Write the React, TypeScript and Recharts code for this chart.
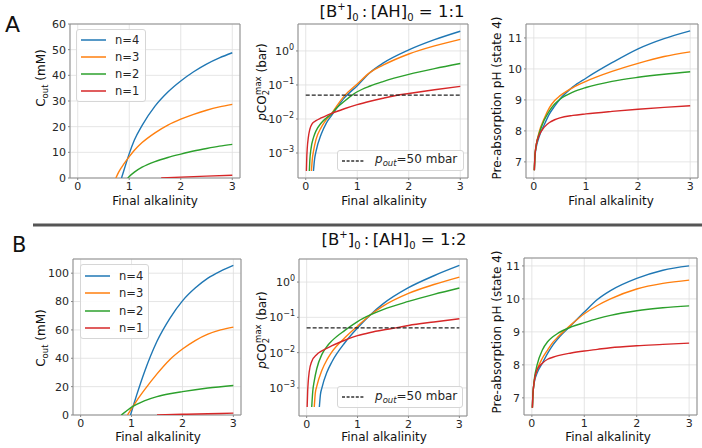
import React from 'react';
import { LineChart, Line, XAxis, YAxis, CartesianGrid, Legend, ReferenceArea } from 'recharts';

const C4 = '#1f77b4';
const C3 = '#ff7f0e';
const C2 = '#2ca02c';
const C1 = '#d62728';
const FONT = '"DejaVu Sans", sans-serif';
const X_TICKS = [0, 1, 2, 3];
const X_DOMAIN = [-0.15, 3.15];
const LOG_TICKS = [0.001, 0.01, 0.1, 1];
const PH_TICKS = [7, 8, 9, 10, 11];

// p_out = 50 mbar reference
const POUT_X = [0, 3];
const POUT_Y = [0.05, 0.05];

// A, C_out (mM)
const A1_N4_X = [0.85, 0.9, 1.0, 1.1, 1.25, 1.5, 1.75, 2.0, 2.25, 2.5, 2.75, 3.0];
const A1_N4_Y = [0, 3.2, 9.5, 14.8, 20.5, 28, 33.5, 37.8, 41.4, 44.4, 46.8, 48.8];
const A1_N3_X = [0.74, 0.8, 0.9, 1.0, 1.1, 1.25, 1.5, 1.75, 2.0, 2.25, 2.5, 2.75, 3.0];
const A1_N3_Y = [0, 2.5, 5.6, 8.3, 10.8, 13.8, 17.6, 20.6, 22.9, 24.8, 26.4, 27.7, 28.7];
const A1_N2_X = [0.97, 1.0, 1.1, 1.25, 1.5, 1.75, 2.0, 2.25, 2.5, 2.75, 3.0];
const A1_N2_Y = [0, 0.6, 2.3, 4.2, 6.4, 8.0, 9.3, 10.5, 11.5, 12.4, 13.1];
const A1_N1_X = [1.62, 2.0, 2.5, 3.0];
const A1_N1_Y = [0, 0.35, 0.75, 1.1];

// A, pCO2 max (bar)
const A2_N4_X = [0.15, 0.17, 0.2, 0.3, 0.4, 0.5, 0.6, 0.75, 1.0, 1.25, 1.5, 2.0, 2.5, 3.0];
const A2_N4_Y = [0.000295, 0.00063, 0.00112, 0.00355, 0.00759, 0.0126, 0.0209, 0.0417, 0.0955, 0.234, 0.437, 1.07, 2.14, 3.8];
const A2_N3_X = [0.11, 0.13, 0.15, 0.2, 0.3, 0.4, 0.5, 0.6, 0.75, 1.0, 1.25, 1.5, 2.0, 2.5, 3.0];
const A2_N3_Y = [0.000295, 0.00071, 0.00112, 0.00251, 0.00562, 0.00955, 0.0141, 0.024, 0.0479, 0.107, 0.234, 0.38, 0.813, 1.41, 2.19];
const A2_N2_X = [0.07, 0.08, 0.1, 0.15, 0.2, 0.3, 0.4, 0.5, 0.6, 0.75, 0.9, 1.0, 1.25, 1.5, 2.0, 2.5, 3.0];
const A2_N2_Y = [0.000295, 0.00063, 0.00126, 0.00282, 0.00447, 0.00759, 0.0107, 0.0141, 0.0209, 0.0331, 0.0501, 0.0631, 0.0933, 0.126, 0.204, 0.302, 0.427];
const A2_N1_X = [0.013, 0.02, 0.03, 0.05, 0.08, 0.12, 0.2, 0.3, 0.4, 0.5, 0.6, 0.75, 1.0, 1.25, 1.5, 1.75, 2.0, 2.5, 3.0];
const A2_N1_Y = [0.000295, 0.00071, 0.00141, 0.00282, 0.005, 0.0071, 0.0089, 0.0107, 0.0126, 0.0145, 0.0166, 0.02, 0.0263, 0.0331, 0.0407, 0.049, 0.0562, 0.0724, 0.0912];

// A, pre-absorption pH
const A3_X = [0.01, 0.02, 0.03, 0.05, 0.1, 0.2, 0.3, 0.4, 0.5, 0.75, 1.0, 1.5, 2.0, 2.5, 3.0];
const A3_N4_Y = [6.73, 7.1, 7.3, 7.5, 7.8, 8.2, 8.55, 8.8, 9.02, 9.42, 9.7, 10.2, 10.65, 10.98, 11.23];
const A3_N3_Y = [6.73, 7.15, 7.35, 7.58, 7.95, 8.4, 8.75, 8.98, 9.13, 9.4, 9.6, 9.92, 10.18, 10.4, 10.55];
const A3_N2_Y = [6.73, 7.15, 7.35, 7.58, 7.9, 8.35, 8.65, 8.87, 9.02, 9.25, 9.4, 9.6, 9.73, 9.83, 9.91];
const A3_N1_Y = [6.73, 7.15, 7.35, 7.58, 7.85, 8.12, 8.27, 8.36, 8.42, 8.5, 8.55, 8.63, 8.7, 8.76, 8.81];

// B, C_out (mM)
const B1_N4_X = [0.98, 1.03, 1.1, 1.25, 1.5, 1.75, 2.0, 2.25, 2.5, 2.75, 3.0];
const B1_N4_Y = [0, 6, 14, 30, 52, 68, 80.5, 89.5, 96.5, 101.5, 105.5];
const B1_N3_X = [0.92, 1.0, 1.1, 1.25, 1.5, 1.75, 2.0, 2.25, 2.5, 2.75, 3.0];
const B1_N3_Y = [0, 4.5, 10, 17.5, 29, 39, 46.5, 52.5, 57, 60, 62];
const B1_N2_X = [0.8, 0.9, 1.0, 1.25, 1.5, 1.75, 2.0, 2.5, 3.0];
const B1_N2_Y = [0, 2.8, 5.5, 10, 13, 15, 16.5, 19, 20.8];
const B1_N1_X = [1.5, 2.0, 2.5, 3.0];
const B1_N1_Y = [0, 0.5, 0.9, 1.3];

// B, pCO2 max (bar)
const B2_N4_X = [0.25, 0.27, 0.3, 0.4, 0.5, 0.75, 1.0, 1.25, 1.5, 2.0, 2.5, 3.0];
const B2_N4_Y = [0.000288, 0.00063, 0.001, 0.00282, 0.00562, 0.0191, 0.0501, 0.117, 0.24, 0.692, 1.51, 2.95];
const B2_N3_X = [0.15, 0.17, 0.2, 0.3, 0.4, 0.5, 0.75, 1.0, 1.25, 1.5, 2.0, 2.5, 3.0];
const B2_N3_Y = [0.000288, 0.00071, 0.00112, 0.00316, 0.00631, 0.0107, 0.0263, 0.0562, 0.117, 0.209, 0.479, 0.851, 1.38];
const B2_N2_X = [0.1, 0.12, 0.15, 0.2, 0.3, 0.4, 0.5, 0.75, 1.0, 1.25, 1.5, 2.0, 2.5, 3.0];
const B2_N2_Y = [0.000288, 0.00079, 0.00158, 0.00355, 0.00891, 0.0151, 0.0219, 0.0427, 0.0759, 0.117, 0.166, 0.282, 0.447, 0.676];
const B2_N1_X = [0.01, 0.02, 0.03, 0.05, 0.1, 0.2, 0.3, 0.5, 0.75, 1.0, 1.25, 1.5, 1.75, 2.0, 2.5, 3.0];
const B2_N1_Y = [0.000288, 0.00079, 0.00141, 0.00282, 0.00562, 0.0089, 0.0112, 0.0158, 0.0224, 0.0302, 0.0372, 0.0437, 0.0501, 0.0589, 0.0741, 0.0912];

// B, pre-absorption pH
const B3_X = [0.01, 0.02, 0.03, 0.05, 0.1, 0.2, 0.3, 0.4, 0.5, 0.75, 1.0, 1.25, 1.5, 2.0, 2.5, 3.0];
const B3_N4_Y = [6.7, 7.1, 7.3, 7.5, 7.75, 8.05, 8.35, 8.6, 8.8, 9.2, 9.6, 9.98, 10.25, 10.62, 10.87, 11.0];
const B3_N3_Y = [6.7, 7.1, 7.3, 7.55, 7.85, 8.2, 8.45, 8.68, 8.85, 9.22, 9.55, 9.8, 10.0, 10.3, 10.47, 10.57];
const B3_N2_Y = [6.7, 7.1, 7.3, 7.6, 8.0, 8.45, 8.7, 8.85, 8.96, 9.15, 9.28, 9.4, 9.5, 9.64, 9.73, 9.79];
const B3_N1_Y = [6.7, 7.1, 7.3, 7.55, 7.85, 8.05, 8.17, 8.23, 8.28, 8.36, 8.42, 8.47, 8.52, 8.58, 8.62, 8.66];

type Series = { name: string; color: string; xs: number[]; ys: number[] };
type Frame = { l: number; t: number; r: number; b: number };
type Box = { left: number; top: number; width: number; height: number; rowH?: number };

const pts = (xs: number[], ys: number[]) => xs.map((x, i) => ({ x, y: ys[i] }));

const four = (x4: number[], y4: number[], x3: number[], y3: number[], x2: number[], y2: number[], x1: number[], y1: number[]): Series[] => [
  { name: 'n=4', color: C4, xs: x4, ys: y4 },
  { name: 'n=3', color: C3, xs: x3, ys: y3 },
  { name: 'n=2', color: C2, xs: x2, ys: y2 },
  { name: 'n=1', color: C1, xs: x1, ys: y1 },
];

const YW = 40;
const XH = 24;
const PT = 10;
const PR = 6;
const TICK = { fontSize: 11, fill: '#262626' };

const LogTick = (props: any) => {
  const { x, y, payload } = props;
  const e = Math.round(Math.log10(payload.value));
  return (
    <text x={x} y={y + 4} textAnchor="end" fontSize={11} fill="#262626">
      10<tspan dy={-5} fontSize={8}>{e < 0 ? `\u2212${-e}` : `${e}`}</tspan>
    </text>
  );
};

const NLegend = ({ series, rowH }: { series: Series[]; rowH: number }) => (
  <div style={{ background: 'rgba(255,255,255,0.85)', border: '1px solid #d6d6d6', borderRadius: 3, padding: '2px 0 0 4px', height: '100%', boxSizing: 'border-box', fontFamily: FONT }}>
    {series.map((s) => (
      <div key={s.name} style={{ display: 'flex', alignItems: 'center', height: rowH }}>
        <svg width={25} height={4} style={{ marginRight: 9 }}>
          <line x1={0} x2={25} y1={2} y2={2} stroke={s.color} strokeWidth={1.5} />
        </svg>
        <span style={{ fontSize: 11.5, color: '#262626' }}>{s.name}</span>
      </div>
    ))}
  </div>
);

const PoutLegend = () => (
  <div style={{ background: 'rgba(255,255,255,0.85)', border: '1px solid #d6d6d6', borderRadius: 3, height: '100%', boxSizing: 'border-box', display: 'flex', alignItems: 'center', paddingLeft: 4, fontFamily: FONT }}>
    <svg width={22} height={4} style={{ marginRight: 11 }}>
      <line x1={0} x2={22} y1={2} y2={2} stroke="#333" strokeWidth={1.3} strokeDasharray="3 1.6" />
    </svg>
    <span style={{ fontSize: 12, color: '#262626' }}>
      <i>p</i><sub style={{ fontSize: 8.5, fontStyle: 'italic' }}>out</sub>=50 mbar
    </span>
  </div>
);

function Panel({ frame, yDomain, yTicks, log, series, legend }: { frame: Frame; yDomain: number[]; yTicks: number[]; log?: boolean; series: Series[]; legend?: Box }) {
  const w = frame.r - frame.l + YW + PR;
  const h = frame.b - frame.t + PT + XH;
  return (
    <div style={{ position: 'absolute', left: frame.l - YW, top: frame.t - PT }}>
      <LineChart width={w} height={h} margin={{ top: PT, right: PR, bottom: 0, left: 0 }}>
        <CartesianGrid stroke="#dedede" strokeWidth={0.8} />
        <XAxis type="number" dataKey="x" domain={X_DOMAIN} ticks={X_TICKS} interval={0} allowDataOverflow height={XH}
          tickSize={2} tickMargin={2} axisLine={false} tickLine={{ stroke: '#888' }} tick={TICK} />
        <YAxis type="number" scale={log ? 'log' : 'linear'} domain={yDomain} ticks={yTicks} interval={0} allowDataOverflow width={YW}
          tickSize={2} tickMargin={2} axisLine={false} tickLine={{ stroke: '#888' }} tick={log ? <LogTick /> : TICK} />
        {series.map((s) => (
          <Line key={s.name} name={s.name} data={pts(s.xs, s.ys)} dataKey="y" type="monotone" stroke={s.color} strokeWidth={1.4}
            dot={false} isAnimationActive={false} />
        ))}
        {log && (
          <Line name="pout" data={pts(POUT_X, POUT_Y)} dataKey="y" stroke="#222" strokeWidth={1.2} strokeDasharray="4 2"
            dot={false} isAnimationActive={false} />
        )}
        <ReferenceArea x1={X_DOMAIN[0]} x2={X_DOMAIN[1]} y1={yDomain[0]} y2={yDomain[1]} fill="none" stroke="#8c8c8c" strokeWidth={1} ifOverflow="visible" />
        {legend && (
          <Legend layout="vertical" align="center" verticalAlign="middle"
            wrapperStyle={{ left: YW + legend.left, top: PT + legend.top, width: legend.width, height: legend.height }}
            content={() => (log ? <PoutLegend /> : <NLegend series={series} rowH={legend.rowH || 17} />)} />
        )}
      </LineChart>
    </div>
  );
}

const Title = ({ x, y, ratio }: { x: number; y: number; ratio: string }) => (
  <text x={x} y={y} textAnchor="middle" fontSize={16.5} fill="#111">
    [B<tspan dy={-7} fontSize={10}>+</tspan><tspan dy={7}>]</tspan>
    <tspan dy={4} fontSize={10}>0</tspan><tspan dy={-4}>{'\u2009:\u2009[AH]'}</tspan>
    <tspan dy={4} fontSize={10}>0</tspan><tspan dy={-4}>{` = ${ratio}`}</tspan>
  </text>
);

const CoutLabel = ({ cx, cy }: { cx: number; cy: number }) => (
  <text transform={`translate(${cx + 4},${cy}) rotate(-90)`} textAnchor="middle" fontSize={12} fill="#111">
    C<tspan dy={3} fontSize={8.5}>out</tspan><tspan dy={-3}>{' (mM)'}</tspan>
  </text>
);

const PcoLabel = ({ cx, cy }: { cx: number; cy: number }) => (
  <text transform={`translate(${cx + 4},${cy}) rotate(-90)`} textAnchor="middle" fontSize={12} fill="#111">
    <tspan fontStyle="italic">p</tspan>CO<tspan dy={3} fontSize={8.5}>2</tspan>
    <tspan dy={-8} dx={-5} fontSize={8.5}>max</tspan><tspan dy={5}>{' (bar)'}</tspan>
  </text>
);

const PhLabel = ({ cx, cy }: { cx: number; cy: number }) => (
  <text transform={`translate(${cx + 4},${cy}) rotate(-90)`} textAnchor="middle" fontSize={12} fill="#111">
    Pre-absorption pH (state 4)
  </text>
);

const XLabel = ({ cx, y }: { cx: number; y: number }) => (
  <text x={cx} y={y} textAnchor="middle" fontSize={12} fill="#111">Final alkalinity</text>
);

export default function App() {
  return (
    <div style={{ position: 'relative', width: 702, height: 448, background: '#fff', fontFamily: FONT, overflow: 'hidden' }}>
      <style>{'body{margin:0}'}</style>

      <Panel frame={{ l: 70, t: 24, r: 240, b: 178 }} yDomain={[0, 60]} yTicks={[0, 10, 20, 30, 40, 50, 60]}
        series={four(A1_N4_X, A1_N4_Y, A1_N3_X, A1_N3_Y, A1_N2_X, A1_N2_Y, A1_N1_X, A1_N1_Y)}
        legend={{ left: 6, top: 5, width: 70, height: 73, rowH: 16.8 }} />
      <Panel frame={{ l: 298, t: 24, r: 468, b: 178 }} yDomain={[1.84e-4, 6.2]} yTicks={LOG_TICKS} log
        series={four(A2_N4_X, A2_N4_Y, A2_N3_X, A2_N3_Y, A2_N2_X, A2_N2_Y, A2_N1_X, A2_N1_Y)}
        legend={{ left: 39, top: 126, width: 127, height: 21 }} />
      <Panel frame={{ l: 526, t: 24, r: 698, b: 178 }} yDomain={[6.48, 11.45]} yTicks={PH_TICKS}
        series={four(A3_X, A3_N4_Y, A3_X, A3_N3_Y, A3_X, A3_N2_Y, A3_X, A3_N1_Y)} />

      <Panel frame={{ l: 73, t: 259, r: 241, b: 415 }} yDomain={[0, 110]} yTicks={[0, 20, 40, 60, 80, 100]}
        series={four(B1_N4_X, B1_N4_Y, B1_N3_X, B1_N3_Y, B1_N2_X, B1_N2_Y, B1_N1_X, B1_N1_Y)}
        legend={{ left: 7, top: 5, width: 69, height: 75, rowH: 17.5 }} />
      <Panel frame={{ l: 299, t: 259, r: 467, b: 416 }} yDomain={[1.6e-4, 4.5]} yTicks={LOG_TICKS} log
        series={four(B2_N4_X, B2_N4_Y, B2_N3_X, B2_N3_Y, B2_N2_X, B2_N2_Y, B2_N1_X, B2_N1_Y)}
        legend={{ left: 38, top: 127, width: 126, height: 22 }} />
      <Panel frame={{ l: 524, t: 258, r: 697, b: 415 }} yDomain={[6.48, 11.24]} yTicks={PH_TICKS}
        series={four(B3_X, B3_N4_Y, B3_X, B3_N3_Y, B3_X, B3_N2_Y, B3_X, B3_N1_Y)} />

      <svg width={702} height={448} style={{ position: 'absolute', left: 0, top: 0, pointerEvents: 'none' }}>
        <text x={5} y={32} fontSize={22} fill="#111">A</text>
        <text x={12} y={252} fontSize={21} fill="#111">B</text>
        <line x1={33} x2={702} y1={225} y2={225} stroke="#555" strokeWidth={3} />
        <Title x={392} y={17} ratio="1:1" />
        <Title x={394} y={245} ratio="1:2" />
        <CoutLabel cx={41} cy={78} />
        <PcoLabel cx={262} cy={82} />
        <PhLabel cx={497} cy={98} />
        <CoutLabel cx={41} cy={338} />
        <PcoLabel cx={262} cy={330} />
        <PhLabel cx={497} cy={332} />
        <XLabel cx={155} y={205} />
        <XLabel cx={384} y={205} />
        <XLabel cx={611} y={205} />
        <XLabel cx={158} y={441} />
        <XLabel cx={384} y={441} />
        <XLabel cx={608} y={441} />
      </svg>
    </div>
  );
}
